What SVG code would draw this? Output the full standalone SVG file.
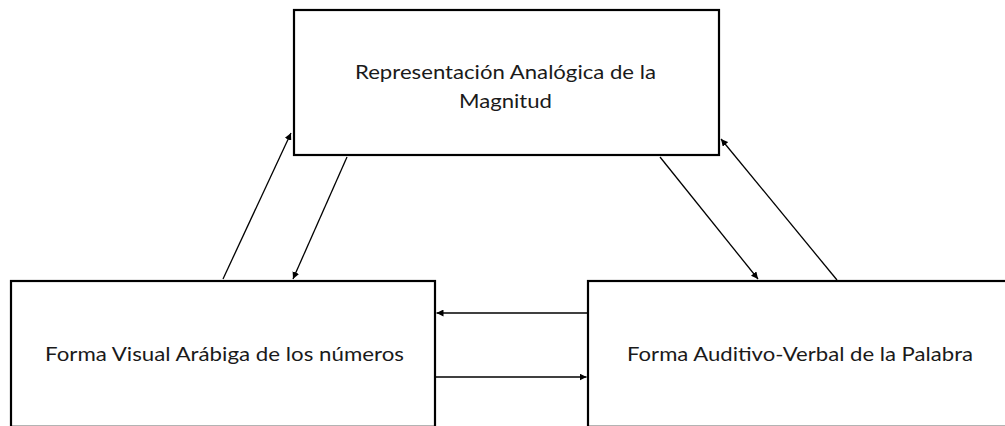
<svg xmlns="http://www.w3.org/2000/svg" width="1005" height="426" viewBox="0 0 1005 426">
<style>
.box{fill:#fff;stroke:#000;stroke-width:2.2}
.lbl{font-family:Lato,"Liberation Sans",sans-serif;font-size:20px;fill:#1a1a1a;text-anchor:middle}
.edge{stroke:#000;stroke-width:1.3;fill:none;marker-end:url(#ah)}
</style>
<defs>
<marker id="ah" viewBox="0 0 10 10" refX="10" refY="5" markerWidth="7" markerHeight="7" markerUnits="userSpaceOnUse" orient="auto">
<path d="M0,0 L10,5 L0,10 z" fill="#000"/>
</marker>
</defs>
<rect width="1005" height="426" fill="#fff"/>
<g id="node-magnitud">
<rect class="box" x="294" y="10" width="425" height="145"/>
<text class="lbl" x="505.5" y="79" textLength="301" lengthAdjust="spacingAndGlyphs">Representación Analógica de la</text>
<text class="lbl" x="505.5" y="107.5" textLength="93" lengthAdjust="spacingAndGlyphs">Magnitud</text>
</g>
<g id="node-visual">
<rect class="box" x="11" y="281" width="424" height="145.8"/>
<text class="lbl" x="224.5" y="360.5" textLength="359" lengthAdjust="spacingAndGlyphs">Forma Visual Arábiga de los números</text>
</g>
<g id="node-verbal">
<rect class="box" x="588" y="281" width="430" height="145.8"/>
<text class="lbl" x="800" y="360.5" textLength="346" lengthAdjust="spacingAndGlyphs">Forma Auditivo-Verbal de la Palabra</text>
</g>
<g id="connectors">
<line class="edge" x1="223" y1="279" x2="291" y2="133"/>
<line class="edge" x1="347" y1="157" x2="293" y2="279"/>
<line class="edge" x1="660" y1="157" x2="758" y2="279"/>
<line class="edge" x1="837" y1="280" x2="721" y2="139"/>
<line class="edge" x1="587" y1="313" x2="436.5" y2="313"/>
<line class="edge" x1="436" y1="377" x2="586.5" y2="377"/>
</g>
</svg>
